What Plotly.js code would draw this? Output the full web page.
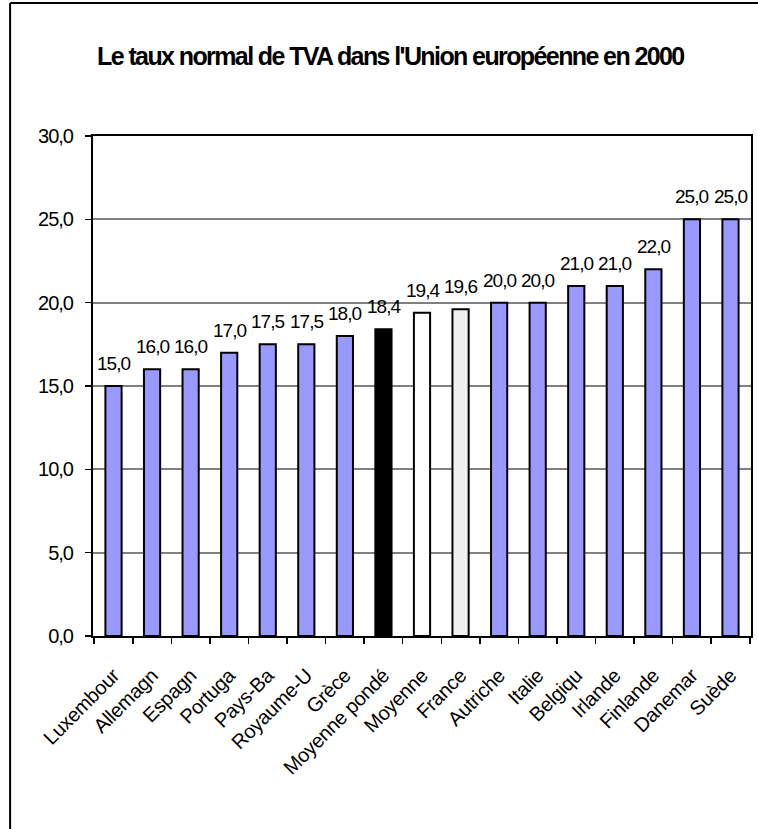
<!DOCTYPE html>
<html>
<head>
<meta charset="utf-8">
<script src="https://cdn.plot.ly/plotly-3.0.1.min.js"></script>
<style>
html,body{margin:0;padding:0;background:#fff;}
#chart{width:758px;height:829px;}
.main-svg .ytick text, .main-svg .annotation-text{letter-spacing:-1px;}
.main-svg .xtick text{letter-spacing:-0.3px;}
.main-svg .gtitle{letter-spacing:-1.6px;}
</style>
</head>
<body>
<div id="chart"></div>
<script>
const categories = ["Luxembour","Allemagn","Espagn","Portuga","Pays-Ba","Royaume-U","Grèce","Moyenne pondé","Moyenne","France","Autriche","Italie","Belgiqu","Irlande","Finlande","Danemar","Suède"];
const rates = [15.0,16.0,16.0,17.0,17.5,17.5,18.0,18.4,19.4,19.6,20.0,20.0,21.0,21.0,22.0,25.0,25.0];
const barColors = ["#9999ff","#9999ff","#9999ff","#9999ff","#9999ff","#9999ff","#9999ff","#000000","#ffffff","#f0f0f0","#9999ff","#9999ff","#9999ff","#9999ff","#9999ff","#9999ff","#9999ff"];
const yTicks = [0,5,10,15,20,25,30];
const yTickText = ["0,0","5,0","10,0","15,0","20,0","25,0","30,0"];
const titleText = "Le taux normal de TVA dans l'Union européenne en 2000";

const font = "Liberation Sans, Arial, sans-serif";

const trace = {
  type: "bar",
  x: categories,
  y: rates,
  marker: {color: barColors, line: {color: "#000000", width: 2}},
  hoverinfo: "skip"
};

const valueLabels = categories.map((c, i) => ({
  x: c,
  y: rates[i],
  xref: "x",
  yref: "y",
  text: rates[i].toFixed(1).replace(".", ","),
  showarrow: false,
  xanchor: "center",
  yanchor: "bottom",
  yshift: 10,
  font: {family: font, size: 19, color: "#000000"}
}));

const layout = {
  width: 758,
  height: 829,
  separators: ", ",
  margin: {l: 93, r: 7, t: 136, b: 193},
  paper_bgcolor: "#ffffff",
  plot_bgcolor: "#ffffff",
  showlegend: false,
  bargap: 0.58,
  title: {
    text: "<b>" + titleText + "</b>",
    font: {family: font, size: 25, color: "#000000"},
    x: 0.515, xanchor: "center",
    y: 0.932, yanchor: "middle"
  },
  xaxis: {
    type: "category",
    tickangle: -45,
    ticks: "outside",
    tickson: "boundaries",
    ticklen: 6,
    tickwidth: 1.5,
    tickcolor: "#000000",
    ticklabelstandoff: 18,
    tickfont: {family: font, size: 20, color: "#000000"},
    showline: true, linecolor: "#000000", linewidth: 2, mirror: true,
    showgrid: false,
    fixedrange: true
  },
  yaxis: {
    range: [0, 30],
    tickvals: yTicks,
    ticktext: yTickText,
    ticks: "outside",
    ticklen: 6,
    tickwidth: 1.5,
    tickcolor: "#000000",
    ticklabelstandoff: 8,
    tickfont: {family: font, size: 20, color: "#000000"},
    showline: true, linecolor: "#000000", linewidth: 2, mirror: true,
    showgrid: true, gridcolor: "#808080", gridwidth: 2,
    zeroline: false,
    fixedrange: true
  },
  annotations: valueLabels,
  shapes: [
    {type: "line", xref: "paper", yref: "paper", x0: -0.126, x1: 1.02, y0: 1.266, y1: 1.266, line: {color: "#000000", width: 2}},
    {type: "line", xref: "paper", yref: "paper", x0: -0.126, x1: -0.126, y0: 1.266, y1: -0.4, line: {color: "#000000", width: 2}}
  ]
};

Plotly.newPlot("chart", [trace], layout, {displayModeBar: false, staticPlot: true});
</script>
</body>
</html>
